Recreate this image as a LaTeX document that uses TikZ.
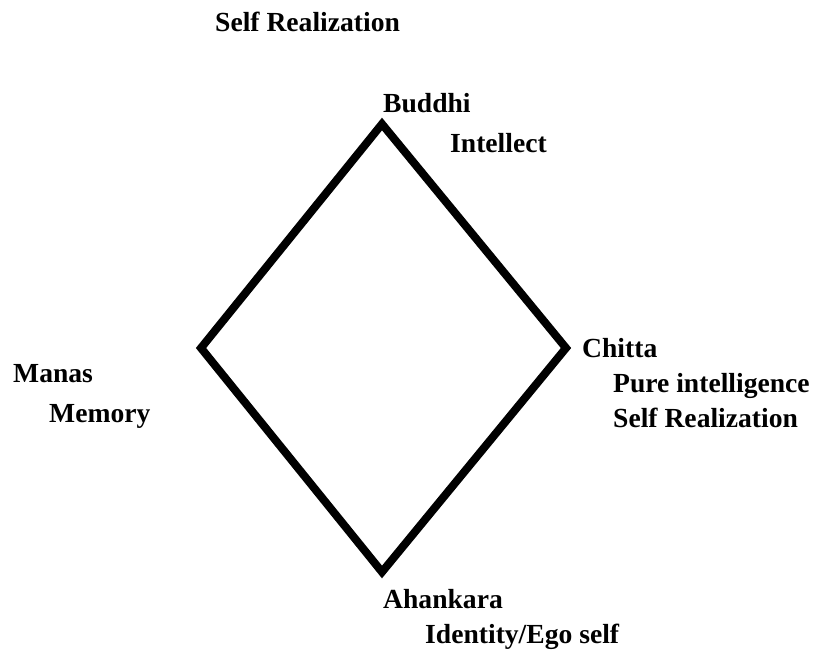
\documentclass[tikz,border=0pt]{standalone}
\usepackage{fontspec}
\setmainfont{Liberation Serif}
\usepackage{tikz}

\tikzset{
	lbl/.style={anchor=base west, inner sep=0pt, font=\fontsize{27.6}{30}\selectfont\bfseries},
	edge/.style={line width=8pt, line join=miter, black}
}

\begin{document}
\begin{tikzpicture}[x=1pt, y=-1pt]
		\useasboundingbox (0,0) rectangle (814,654);
		\coordinate (top) at (382,124);
		\coordinate (right) at (566,348);
		\coordinate (bottom) at (382,572);
		\coordinate (left) at (201,348);
		\draw[edge] (top) -- (right) -- (bottom) -- (left) -- cycle;

		\node[lbl] (selftop) at (215,31) {Self Realization};
		\node[lbl] (buddhi) at (383,112) {Buddhi};
		\node[lbl] (intellect) at (450,152) {Intellect};
		\node[lbl] (chitta) at (582,357) {Chitta};
		\node[lbl] (pure) at (613,392) {Pure intelligence};
		\node[lbl] (selfright) at (613,427) {Self Realization};
		\node[lbl] (manas) at (13,382) {Manas};
		\node[lbl] (memory) at (49,422) {Memory};
		\node[lbl] (ahankara) at (383,608) {Ahankara};
		\node[lbl] (identity) at (425,643) {Identity/Ego self};
	\end{tikzpicture}
\end{document}
